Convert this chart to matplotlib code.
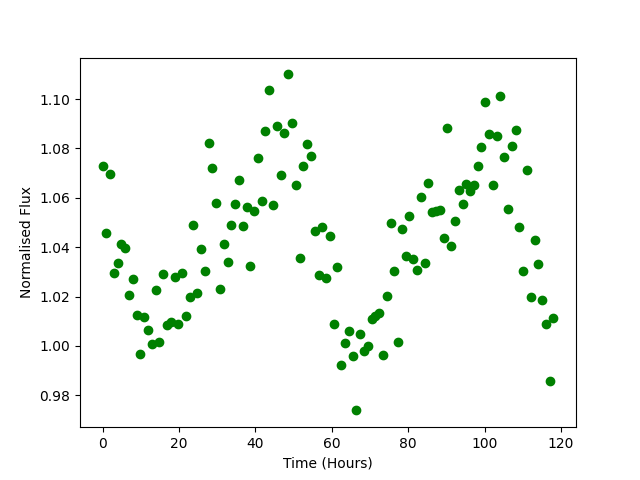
import numpy as np
import matplotlib
matplotlib.use("Agg")
import matplotlib.pyplot as plt

# normalised flux values, one per sample
flux = [
    1.0727, 1.0456, 1.0695, 1.0297, 1.0335, 1.0412, 1.0397, 1.0208, 1.0273, 1.0127,
    0.9969, 1.0119, 1.0066, 1.0006, 1.0226, 1.0018, 1.0293, 1.0085, 1.0098, 1.0281,
    1.0089, 1.0297, 1.0122, 1.0199, 1.0488, 1.0216, 1.0391, 1.0302, 1.0824, 1.0719,
    1.0581, 1.0229, 1.0415, 1.0342, 1.0492, 1.0577, 1.0674, 1.0484, 1.0561, 1.0322,
    1.0545, 1.0760, 1.0589, 1.0869, 1.1035, 1.0573, 1.0893, 1.0691, 1.0861, 1.1100,
    1.0903, 1.0654, 1.0358, 1.0727, 1.0820, 1.0768, 1.0464, 1.0289, 1.0480, 1.0277,
    1.0445, 1.0087, 1.0318, 0.9922, 1.0010, 1.0062, 0.9958, 0.9739, 1.0049, 0.9978,
    0.9999, 1.0109, 1.0120, 1.0135, 0.9962, 1.0204, 1.0500, 1.0302, 1.0018, 1.0472,
    1.0366, 1.0526, 1.0353, 1.0306, 1.0603, 1.0335, 1.0662, 1.0543, 1.0547, 1.0551,
    1.0437, 1.0881, 1.0404, 1.0508, 1.0631, 1.0577, 1.0655, 1.0629, 1.0651, 1.0727,
    1.0804, 1.0987, 1.0858, 1.0654, 1.0850, 1.1012, 1.0764, 1.0554, 1.0809, 1.0874,
    1.0480, 1.0303, 1.0712, 1.0200, 1.0431, 1.0330, 1.0188, 1.0088, 0.9860, 1.0112,
]

# evenly spaced samples over ~118 hours
time = np.linspace(0, 118, len(flux))

plt.figure(figsize=(6.4, 4.8), dpi=100)
plt.plot(time, flux, 'o', color='green')
plt.xlabel("Time (Hours)")
plt.ylabel("Normalised Flux")
plt.savefig("out.png")
